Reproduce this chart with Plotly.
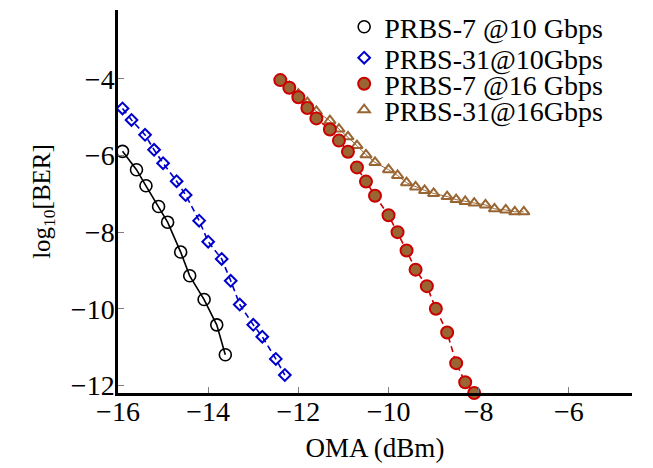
import plotly.graph_objects as go

# PRBS-7 @10 Gbps
x_p7_10 = [-15.9, -15.59, -15.38, -15.1, -14.9, -14.61, -14.41, -14.09, -13.81, -13.62]
y_p7_10 = [-5.89, -6.37, -6.79, -7.33, -7.74, -8.52, -9.14, -9.76, -10.42, -11.2]

# PRBS-31 @10 Gbps
x_p31_10 = [-15.9, -15.7, -15.4, -15.2, -15.0, -14.7, -14.5, -14.2, -14.0, -13.7,
            -13.5, -13.3, -13.0, -12.8, -12.5, -12.3]
y_p31_10 = [-4.77, -5.07, -5.46, -5.85, -6.2, -6.67, -7.03, -7.7, -8.25, -8.7,
            -9.27, -9.89, -10.42, -10.73, -11.31, -11.73]

# PRBS-7 @16 Gbps
x_p7_16 = [-12.4, -12.2, -12.0, -11.8, -11.6, -11.3, -11.1, -10.9, -10.7, -10.5, -10.3,
           -10.0, -9.8, -9.6, -9.4, -9.15, -8.95, -8.7, -8.5, -8.3, -8.1]
y_p7_16 = [-4.03, -4.23, -4.48, -4.76, -5.03, -5.32, -5.61, -5.9, -6.31, -6.68, -7.05,
           -7.56, -8.0, -8.48, -8.98, -9.41, -10.0, -10.62, -11.42, -11.92, -12.2]

# PRBS-31 @16 Gbps
x_p31_16 = [-12.4, -12.2, -12.0, -11.8, -11.6, -11.3, -11.1, -10.9, -10.7, -10.5, -10.3,
            -10.0, -9.8, -9.6, -9.4, -9.2, -9.0, -8.7, -8.5, -8.3, -8.1, -7.85, -7.65,
            -7.4, -7.2, -7.0]
y_p31_16 = [-4.03, -4.2, -4.4, -4.62, -4.85, -5.09, -5.31, -5.51, -5.74, -5.98, -6.18,
            -6.37, -6.52, -6.71, -6.82, -6.91, -6.99, -7.07, -7.15, -7.2, -7.24, -7.29,
            -7.39, -7.42, -7.47, -7.47]

series_names = ["PRBS-7 @10 Gbps", "PRBS-31@10Gbps", "PRBS-7 @16 Gbps", "PRBS-31@16Gbps"]

x_ticks = [-16, -14, -12, -10, -8, -6]
y_ticks = [-12, -10, -8, -6, -4]

BROWN = "rgb(153,102,51)"
RED = "rgb(204,0,0)"
BLUE = "rgb(0,0,204)"
FONT = "Liberation Serif"
FS = 28

fig = go.Figure()

def add_series(x, y, name, legend_id, line, marker):
    fig.add_trace(go.Scatter(x=x, y=y, mode="lines", line=line, showlegend=False,
                             hoverinfo="skip", cliponaxis=False))
    fig.add_trace(go.Scatter(x=x, y=y, mode="markers", marker=marker, name=name,
                             legend=legend_id, cliponaxis=False))

add_series(x_p7_10, y_p7_10, series_names[0], "legend",
           dict(color="black", width=1.6),
           dict(symbol="circle-open", size=12, color="black", line=dict(width=1.6, color="black")))
add_series(x_p31_10, y_p31_10, series_names[1], "legend2",
           dict(color=BLUE, width=1.6, dash="6px,4px"),
           dict(symbol="diamond-open", size=9, color=BLUE, line=dict(width=2, color=BLUE)))
add_series(x_p31_16, y_p31_16, series_names[3], "legend4",
           dict(color=BROWN, width=1.0),
           dict(symbol="triangle-up-open", size=10, color=BROWN, line=dict(width=2, color=BROWN)))
add_series(x_p7_16, y_p7_16, series_names[2], "legend3",
           dict(color=RED, width=1.6, dash="6px,4px"),
           dict(symbol="circle", size=12, color=BROWN, line=dict(width=2, color=RED)))

top, plot_h = 10, 383
def ypix(p):
    return 1 - (p - top) / plot_h

leg_x = 0.44
leg_common = dict(x=leg_x, xanchor="left", yanchor="middle", bgcolor="rgba(0,0,0,0)",
                  borderwidth=0, itemwidth=30, font=dict(size=FS, family=FONT))

fig.update_layout(
    width=653, height=468,
    margin=dict(l=118, r=21, t=10, b=75, autoexpand=False),
    paper_bgcolor="white", plot_bgcolor="white",
    font=dict(family=FONT, size=FS, color="black"),
    showlegend=True,
    legend=dict(y=ypix(27), **leg_common),
    legend2=dict(y=ypix(58), **leg_common),
    legend3=dict(y=ypix(84), **leg_common),
    legend4=dict(y=ypix(110), **leg_common),
)
fig.update_xaxes(
    range=[-16, -4.6], showgrid=False, zeroline=False,
    showline=True, linecolor="black", linewidth=2.5,
    ticks="inside", ticklen=6, tickcolor="gray", tickwidth=1,
    ticklabelstandoff=-8,
    tickvals=x_ticks, ticktext=["\u2212" + str(abs(v)) for v in x_ticks],
    title=dict(text="OMA (dBm)", standoff=12, font=dict(size=FS - 1)),
)
fig.update_yaxes(
    range=[-12.2, -2.2], showgrid=False, zeroline=False,
    showline=True, linecolor="black", linewidth=2.5,
    ticks="inside", ticklen=6, tickcolor="gray", tickwidth=1,
    ticklabelstandoff=-5,
    tickvals=y_ticks, ticktext=["\u2212" + str(abs(v)) for v in y_ticks],
    title=dict(text="log<sub>10</sub>[BER]", standoff=14, font=dict(size=FS - 3)),
)

fig.write_html("out.html", config={"displayModeBar": False},
               post_script="document.body.style.margin='0';")
